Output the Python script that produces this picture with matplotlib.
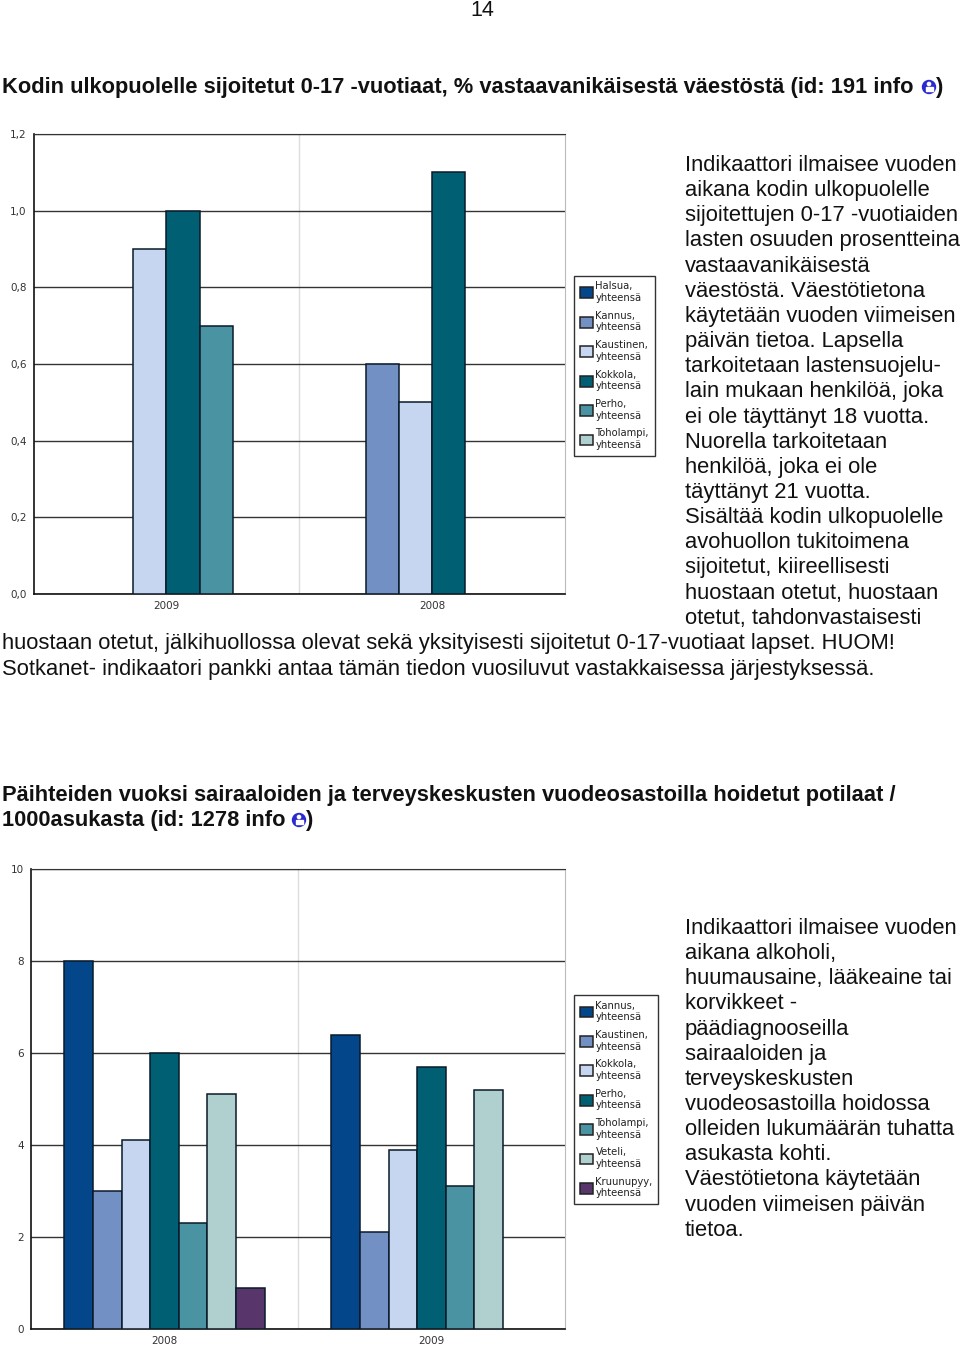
import numpy as np
import matplotlib
matplotlib.use('Agg')
import matplotlib.pyplot as plt
from matplotlib.patches import Circle, Rectangle

W, H = 960, 1346

colors = ['#03468a', '#7290c4', '#c6d6f0', '#005f73', '#4a93a3', '#b0d0d0', '#58366b']

# kuvio 1
years1 = ['2009', '2008']
names1 = ['Halsua', 'Kannus', 'Kaustinen', 'Kokkola', 'Perho', 'Toholampi']
values1 = [
    [np.nan, np.nan],
    [np.nan, 0.6],
    [0.9, 0.5],
    [1.0, 1.1],
    [0.7, np.nan],
    [np.nan, np.nan],
]
ticks1 = [0, 0.2, 0.4, 0.6, 0.8, 1.0, 1.2]
ticklabels1 = ['0,0', '0,2', '0,4', '0,6', '0,8', '1,0', '1,2']

# kuvio 2
years2 = ['2008', '2009']
names2 = ['Kannus', 'Kaustinen', 'Kokkola', 'Perho', 'Toholampi', 'Veteli', 'Kruunupyy']
values2 = [
    [8.0, 6.4],
    [3.0, 2.1],
    [4.1, 3.9],
    [6.0, 5.7],
    [2.3, 3.1],
    [5.1, 5.2],
    [0.9, np.nan],
]
ticks2 = [0, 2, 4, 6, 8, 10]
ticklabels2 = ['0', '2', '4', '6', '8', '10']

title1 = 'Kodin ulkopuolelle sijoitetut 0-17 -vuotiaat, % vastaavanikäisestä väestöstä (id: 191 info'
body1 = [
    'Indikaattori ilmaisee vuoden', 'aikana kodin ulkopuolelle', 'sijoitettujen 0-17 -vuotiaiden',
    'lasten osuuden prosentteina', 'vastaavanikäisestä', 'väestöstä. Väestötietona',
    'käytetään vuoden viimeisen', 'päivän tietoa. Lapsella', 'tarkoitetaan lastensuojelu-',
    'lain mukaan henkilöä, joka', 'ei ole täyttänyt 18 vuotta.', 'Nuorella tarkoitetaan',
    'henkilöä, joka ei ole', 'täyttänyt 21 vuotta.', 'Sisältää kodin ulkopuolelle',
    'avohuollon tukitoimena', 'sijoitetut, kiireellisesti', 'huostaan otetut, huostaan',
    'otetut, tahdonvastaisesti',
]
body1_wide = [
    'huostaan otetut, jälkihuollossa olevat sekä yksityisesti sijoitetut 0-17-vuotiaat lapset. HUOM!',
    'Sotkanet- indikaatori pankki antaa tämän tiedon vuosiluvut vastakkaisessa järjestyksessä.',
]
title2 = ['Päihteiden vuoksi sairaaloiden ja terveyskeskusten vuodeosastoilla hoidetut potilaat /',
          '1000asukasta (id: 1278 info']
body2 = [
    'Indikaattori ilmaisee vuoden', 'aikana alkoholi,', 'huumausaine, lääkeaine tai', 'korvikkeet -',
    'päädiagnooseilla', 'sairaaloiden ja', 'terveyskeskusten', 'vuodeosastoilla hoidossa',
    'olleiden lukumäärän tuhatta', 'asukasta kohti.', 'Väestötietona käytetään',
    'vuoden viimeisen päivän', 'tietoa.',
]


def pixel_axes(fig, left, top, right, bottom):
    return fig.add_axes([left / W, 1 - bottom / H, (right - left) / W, (bottom - top) / H])


def bar_chart(fig, box, years, names, values, ticks, ticklabels, legend_corner):
    ax = pixel_axes(fig, *box)
    n = len(names)
    x = np.arange(len(years))
    width = 0.75 / n
    for i, vals in enumerate(values):
        ax.bar(x + (i - (n - 1) / 2) * width, vals, width, color=colors[i], edgecolor='#0a1a2a',
               linewidth=1.1, label=names[i] + ',\nyhteensä', zorder=3)
    ax.set_xlim(-0.5, len(years) - 0.5)
    ax.set_ylim(ticks[0], ticks[-1])
    ax.set_xticks(x, years)
    ax.set_yticks(ticks, ticklabels)
    ax.tick_params(length=0, labelsize=7.5, labelcolor='#333333', pad=5)
    ax.grid(axis='y', color='#333333', linewidth=1.0, zorder=1)
    ax.axvline(0.5, color='#dddddd', linewidth=1.0, zorder=1)
    for side in ['left', 'bottom']:
        ax.spines[side].set_color('#111111')
        ax.spines[side].set_linewidth(1.2)
    ax.spines['top'].set_color('#333333')
    ax.spines['right'].set_color('#bbbbbb')
    leg = ax.legend(loc='upper left', bbox_to_anchor=(legend_corner[0] / W, 1 - legend_corner[1] / H),
                    bbox_transform=fig.transFigure,
                    fontsize=7.2, frameon=True, fancybox=False, edgecolor='#333333', framealpha=1,
                    handlelength=1.3, handleheight=1.3, handletextpad=0.3, labelspacing=0.78,
                    borderpad=0.55, borderaxespad=0, labelcolor='#222222')
    leg.get_frame().set_linewidth(1.0)
    for h in leg.legend_handles:
        h.set_edgecolor('#222222')
    return ax


def info_icon(ax, cx, cy):
    ax.add_patch(Circle((cx, cy), 6.5, color='#2a2ad0'))
    ax.add_patch(Rectangle((cx - 3.5, cy - 0.5), 7, 4, color='white'))
    ax.add_patch(Circle((cx, cy - 3), 1.6, color='white'))


fig = plt.figure(figsize=(W / 100, H / 100), dpi=100)

page = fig.add_axes([0, 0, 1, 1])
page.set_xlim(0, W)
page.set_ylim(H, 0)
page.axis('off')

font = 'Liberation Sans'
body_size = 15.8
title_size = 15.75
step = 25.15


def put(x, y, s, **kw):
    page.text(x, y, s, family=font, va='baseline', ha='left', color='#111111', **kw)


page.text(482, 16, '14', family=font, fontsize=15.5, ha='center', va='baseline', color='#111111')

put(2, 93, title1, fontsize=title_size, fontweight='bold')
info_icon(page, 929, 87)
put(936, 93, ')', fontsize=title_size, fontweight='bold')
for i, line in enumerate(body1):
    put(685, 171 + i * step, line, fontsize=body_size)
for i, line in enumerate(body1_wide):
    put(2, 649 + i * step + 0.5, line, fontsize=body_size)

put(2, 801, title2[0], fontsize=title_size, fontweight='bold')
put(2, 826, title2[1], fontsize=title_size, fontweight='bold')
info_icon(page, 299, 820)
put(306, 826, ')', fontsize=title_size, fontweight='bold')
for i, line in enumerate(body2):
    put(685, 934 + i * step, line, fontsize=body_size)

bar_chart(fig, (33.5, 134, 565, 594), years1, names1, values1, ticks1, ticklabels1, (574, 276))
bar_chart(fig, (31, 869, 565, 1329), years2, names2, values2, ticks2, ticklabels2, (574, 995))

fig.savefig('out.png', dpi=100)
